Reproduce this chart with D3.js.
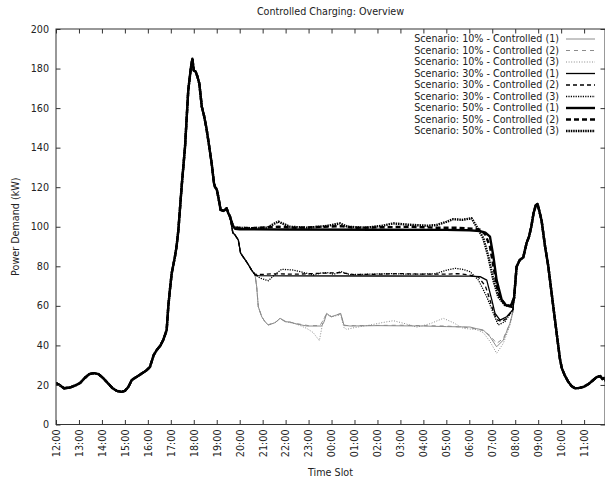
<!DOCTYPE html>
<html>
<head>
<meta charset="utf-8">
<script src="https://cdn.jsdelivr.net/npm/d3@7"></script>
<style>
  html, body { margin: 0; padding: 0; background: #fff; }
  svg { display: block; font-family: "DejaVu Sans", sans-serif; }
</style>
</head>
<body>
<svg id="chart" width="605" height="480"></svg>
<script>
// ---------------- DATA (hours after 12:00, kW) ----------------
const hourLabels = ["12:00","13:00","14:00","15:00","16:00","17:00","18:00","19:00","20:00","21:00","22:00","23:00",
  "00:00","01:00","02:00","03:00","04:00","05:00","06:00","07:00","08:00","09:00","10:00","11:00"];
const yTicks = [0,20,40,60,80,100,120,140,160,180,200];

// shared uncontrolled evening demand (identical for all scenarios)
const eveningLoad = [[0,21],[0.15,20],[0.35,18.3],[0.6,18.7],[0.85,19.8],[1.05,21],[1.25,23.5],[1.45,25.5],[1.65,26],
  [1.85,25.5],[2.05,23.5],[2.25,21],[2.45,18.5],[2.65,17],[2.85,16.5],[3.0,17],[3.15,19],[3.3,22.5],[3.5,24],[3.7,25.5],
  [3.9,27],[4.09,29],[4.25,35],[4.39,37.7],[4.55,40],[4.67,42.7],[4.82,47.8],[4.89,59.6],[4.96,68],[5.04,76.5],[5.18,84.9],
  [5.25,90],[5.33,98.4],[5.47,120],[5.62,140.5],[5.76,169],[5.87,180],[5.94,185],[6.0,179],[6.08,178.5],[6.16,176],
  [6.24,172.5],[6.35,160.7],[6.45,156],[6.55,150],[6.63,143.9],[6.78,132],[6.88,122],[6.93,120],[7.0,119],[7.07,115],
  [7.17,108.5],[7.3,108],[7.43,109.3],[7.5,107],[7.58,105]];

// shared morning demand after controlled window
const morningLoad = [[19.95,64],[20.06,79.8],[20.2,83.2],[20.35,84.5],[20.5,92],[20.6,95],[20.7,100],[20.8,107],[20.9,111],
  [20.97,111.5],[21.05,108],[21.15,103],[21.3,90],[21.44,80],[21.6,65],[21.73,53],[21.85,42],[21.95,33],[22.03,28.4],
  [22.15,25],[22.31,21.6],[22.45,19.5],[22.6,18.3],[22.8,18.5],[22.97,19],[23.2,20.5],[23.4,22.5],[23.55,24],[23.7,24.5],
  [23.8,23],[23.87,23.5],[23.95,22]];

// controlled windows per scenario
const s10c1 = [[7.7,97],[7.8,95.8],[7.94,93.3],[8.04,86.6],[8.3,82.3],[8.52,78.1],[8.67,75.6],[8.74,69.7],[8.81,59.6],
  [8.96,54.5],[9.1,52],[9.25,50.3],[9.54,51.5],[9.76,53.7],[9.97,52],[10.2,51.8],[10.48,50.8],[10.92,49.8],[11.57,49.8],
  [11.68,52],[11.79,56.2],[11.9,55],[12.0,54.5],[12.22,55.4],[12.4,56.2],[12.54,50.3],[12.8,49.8],[14,50],[16,49.8],
  [17.0,49.5],[18.03,49.3],[18.3,48.5],[18.61,47.8],[18.9,44.4],[19.19,39.3],[19.48,42.7],[19.77,51.2],[19.9,57]];
const s10c2 = [[7.7,97],[7.8,95.8],[7.94,93.3],[8.04,86.6],[8.3,82.3],[8.52,78.1],[8.67,75.6],[8.74,69.7],[8.81,59.6],
  [8.96,54.5],[9.1,52],[9.25,50.5],[9.54,51.5],[9.76,53.5],[10.0,52.2],[10.48,51],[11.0,50],[11.5,50],[11.79,56],[12.0,54.5],
  [12.22,55.4],[12.4,56],[12.54,50],[13,50],[15,50.2],[17,49.8],[18,49],[18.61,47.5],[18.9,45],[19.19,41],[19.48,43.5],
  [19.77,51],[19.9,57]];
const s10c3 = [[7.7,97],[7.8,95.8],[7.94,93.3],[8.04,86.6],[8.3,82.3],[8.52,78.1],[8.67,75.6],[8.74,69.7],[8.81,59.6],
  [8.96,54.5],[9.1,52],[9.25,50.3],[9.54,51.5],[9.76,53.7],[10.0,52],[10.48,50.8],[10.92,48.6],[11.2,46.5],[11.47,42.4],
  [11.64,52.8],[11.79,56],[12.0,54.5],[12.22,55],[12.4,55.5],[12.54,49],[12.66,48.1],[13.0,49],[13.68,50.3],[14.2,51.5],
  [14.69,52.5],[15.2,51],[15.71,49.2],[16.3,51],[16.87,53.7],[17.3,51.5],[17.74,48.6],[18.3,48],[18.61,46.5],[18.9,42],
  [19.19,36],[19.48,41],[19.77,50],[19.9,57]];
const s30c1 = [[7.7,97],[7.8,95.8],[7.94,93.3],[8.04,86.6],[8.3,82.3],[8.52,78.1],[8.67,75.6],[8.8,75.3],[10,75.2],[14,75.1],
  [18,75],[18.47,74.8],[18.76,73],[18.98,63],[19.12,56.2],[19.34,52.8],[19.63,54.5],[19.9,58]];
const s30c2 = [[7.7,97],[7.8,95.8],[7.94,93.3],[8.04,86.6],[8.3,82.3],[8.52,78.1],[8.67,76],[8.8,75.8],[9.5,76.2],[10.5,76],
  [11.8,76.6],[12.4,76.8],[13,75.8],[14,76],[15,76.3],[16,76],[17,76],[17.5,76.3],[18,75.6],[18.4,74.5],[18.7,70],[18.9,63],
  [19.05,57],[19.2,53],[19.4,52],[19.6,53.5],[19.9,58]];
const s30c3 = [[7.7,97],[7.8,95.8],[7.94,93.3],[8.04,86.6],[8.3,82.3],[8.52,78.1],[8.67,75.6],[8.9,74],[9.25,72.7],[9.5,75.5],
  [9.83,78.5],[10.34,78.1],[10.63,77.3],[11.2,75.6],[11.5,76.5],[11.8,76.8],[12.1,76],[12.4,77.3],[12.8,75.8],[13.68,76],
  [14.5,76.3],[15.5,76],[16.5,76.2],[17.0,78],[17.38,79],[17.7,78.5],[18.03,77.3],[18.4,73],[18.76,64.6],[19.05,56.2],
  [19.26,50.3],[19.55,52],[19.9,58]];
const s50c1 = [[7.7,100.5],[7.8,99],[8.0,98.7],[10,98.6],[14,98.5],[17,98.4],[18.0,98.2],[18.47,97.8],[18.7,97],[18.9,95],
  [19.05,84.9],[19.19,73],[19.41,63],[19.6,60.3],[19.8,59.8]];
const s50c2 = [[7.7,100.5],[7.8,99.5],[8.5,99.3],[9.7,100],[10.5,99.5],[12.4,100.3],[13,99.5],[15.5,100],[16.5,99.5],
  [17.5,99.5],[18.2,99],[18.5,98.5],[18.7,96],[18.9,90],[19.05,80],[19.2,70],[19.35,64],[19.55,61],[19.8,59.8]];
const s50c3 = [[7.7,100.5],[7.8,99.5],[8.5,99.3],[9.2,99.5],[9.5,101.5],[9.68,102.6],[9.9,101.5],[10.19,100],[11,99.5],
  [11.79,100.4],[12.37,101.7],[12.7,100],[13.5,99.5],[14.2,100.5],[14.69,101.7],[15.4,101],[16.2,100.5],[16.58,100.9],
  [17.0,102.5],[17.3,103.8],[17.7,103.5],[18.1,104.3],[18.32,100],[18.61,94.2],[18.83,84.9],[19.05,73],[19.26,64.6],
  [19.55,60.4],[19.85,59.5]];

const seriesNames = ["Scenario: 10% - Controlled (1)","Scenario: 10% - Controlled (2)","Scenario: 10% - Controlled (3)",
  "Scenario: 30% - Controlled (1)","Scenario: 30% - Controlled (2)","Scenario: 30% - Controlled (3)",
  "Scenario: 50% - Controlled (1)","Scenario: 50% - Controlled (2)","Scenario: 50% - Controlled (3)"];
const controlled = [s10c1,s10c2,s10c3,s30c1,s30c2,s30c3,s50c1,s50c2,s50c3];

// ---------------- STYLES ----------------
const strokes = ["#8c8c8c","#8c8c8c","#8c8c8c","#000","#000","#000","#000","#000","#000"];
const widths = [1,1,1,1.3,1.3,1.3,2.4,2.4,2.4];
const dashes = [null,"4,4","1,1.6",null,"4,3","1.2,1.2",null,"5,3","1.5,0.9"];

const svg = d3.select("#chart");
const L = 56, R = 605, T = 29, B = 424.5;
const x = d3.scaleLinear().domain([0, 23.91]).range([L, R]);
const y = d3.scaleLinear().domain([0, 200]).range([B, T]);

svg.append("defs").append("clipPath").attr("id","clip")
  .append("rect").attr("x",L).attr("y",T).attr("width",R-L).attr("height",B-T);

const line = d3.line().x(d => x(d[0])).y(d => y(d[1]));

const plot = svg.append("g").attr("clip-path","url(#clip)");
controlled.forEach((ctrl, i) => {
  const start = ctrl[0][0], end = ctrl[ctrl.length-1][0];
  const pts = eveningLoad.filter(d => d[0] < start).concat(ctrl, morningLoad.filter(d => d[0] > end));
  plot.append("path").datum(pts)
    .attr("d", line).attr("fill","none")
    .attr("stroke", strokes[i]).attr("stroke-width", widths[i])
    .attr("stroke-dasharray", dashes[i]).attr("stroke-linejoin","round");
});

// axes
const fs = "9.6px";
const tk = 4.5;
const ax = svg.append("g");
const yl = ax.append("g").attr("transform",`translate(${L},0)`)
  .call(d3.axisLeft(y).tickValues(yTicks).tickSizeInner(-tk).tickSizeOuter(0).tickPadding(7));
const yr = ax.append("g").attr("transform",`translate(${R},0)`)
  .call(d3.axisRight(y).tickValues(yTicks).tickSizeInner(-tk).tickSizeOuter(0).tickFormat(""));
const xb = ax.append("g").attr("transform",`translate(0,${B})`)
  .call(d3.axisBottom(x).tickValues(d3.range(hourLabels.length)).tickFormat(i => hourLabels[i]).tickSizeInner(-tk).tickSizeOuter(0));
const xt = ax.append("g").attr("transform",`translate(0,${T})`)
  .call(d3.axisTop(x).tickValues(d3.range(hourLabels.length)).tickFormat("").tickSizeInner(-tk).tickSizeOuter(0));
ax.selectAll(".domain").remove();
ax.selectAll(".tick line").attr("stroke","#333");
ax.selectAll("text").attr("font-size", fs).attr("fill","#222").attr("font-family","DejaVu Sans, sans-serif");
xb.selectAll("text").attr("transform","rotate(-90)").attr("x",-5).attr("y",0).attr("dy","0.35em").style("text-anchor","end");

svg.append("rect").attr("x",L).attr("y",T).attr("width",R-L).attr("height",B-T)
  .attr("fill","none").attr("stroke","#333").attr("stroke-width",1);

// titles
svg.append("text").attr("x",(L+R)/2).attr("y",15).attr("text-anchor","middle")
  .attr("font-size",fs).attr("fill","#222").text("Controlled Charging: Overview");
svg.append("text").attr("x",(L+R)/2).attr("y",476).attr("text-anchor","middle")
  .attr("font-size",fs).attr("fill","#222").text("Time Slot");
svg.append("text").attr("transform",`translate(15.5,${(T+B)/2}) rotate(-90)`).attr("text-anchor","middle")
  .attr("dy","0.35em").attr("font-size",fs).attr("fill","#222").text("Power Demand (kW)");

// legend
const lg = svg.append("g");
seriesNames.forEach((name, i) => {
  const yy = 39 + i*11.5;
  lg.append("text").attr("x",559).attr("y",yy).attr("dy","0.35em").attr("text-anchor","end")
    .attr("font-size",fs).attr("fill","#222").text(name);
  lg.append("line").attr("x1",566).attr("x2",595).attr("y1",yy).attr("y2",yy)
    .attr("stroke",strokes[i]).attr("stroke-width",widths[i]).attr("stroke-dasharray",dashes[i]);
});
</script>
</body>
</html>
